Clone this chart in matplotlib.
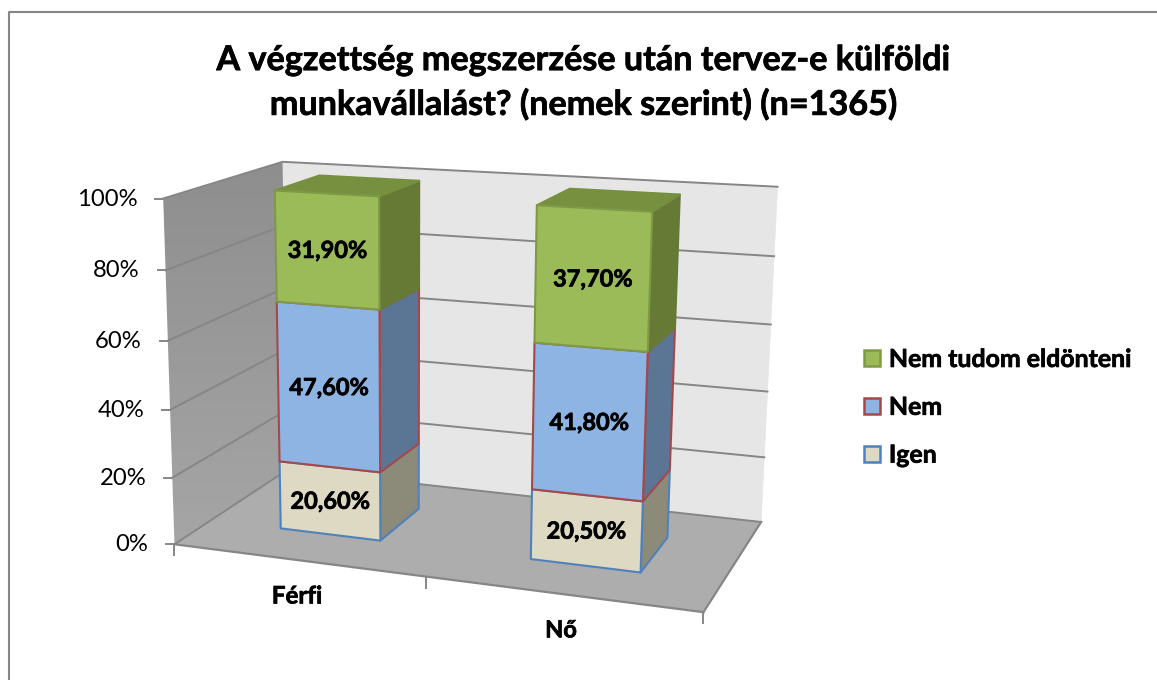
import matplotlib
matplotlib.use('Agg')
import matplotlib.pyplot as plt
import matplotlib.patheffects as pe
from matplotlib.colors import LinearSegmentedColormap
from matplotlib.patches import Patch, Polygon
import numpy as np

categories = ['Férfi', 'Nő']
series = ['Igen', 'Nem', 'Nem tudom eldönteni']
igen = [20.6, 20.5]
nem = [47.6, 41.8]
nem_tudom = [31.9, 37.7]
yticks = [0, 20, 40, 60, 80, 100]

# (colour of front, side, top, edge)
styles = {
    'Igen': ('#DDD9C3', '#8C8A78', '#B0AD9B', '#4F81BD'),
    'Nem': ('#8DB4E2', '#5B7595', '#7090B5', '#A5484A'),
    'Nem tudom eldönteni': ('#9BBB59', '#667A35', '#76903F', '#7E9A47'),
}

plt.rcParams['font.family'] = ['Lato', 'DejaVu Sans']
heavy = [pe.withStroke(linewidth=0.5, foreground='black')]


def fit_camera():
    # walls of the box: (category pos, percent, depth) -> pixel
    anchors = [((0, 0, 0), (177, 544)), ((2, 0, 0), (703, 613)), ((0, 100, 0), (161, 198)),
               ((0, 0, 1), (285, 470)), ((2, 0, 1), (762, 521)), ((0, 100, 1), (285, 162)),
               ((2, 100, 1), (777, 187))]
    A, b = [], []
    for (u, v, d), (px, py) in anchors:
        v = v / 100
        A.append([u, v, d, 1, 0, 0, 0, 0, -px * u, -px * v, -px * d])
        b.append(px)
        A.append([0, 0, 0, 0, u, v, d, 1, -py * u, -py * v, -py * d])
        b.append(py)
    m = np.linalg.lstsq(np.array(A, float), np.array(b, float), rcond=None)[0]
    return np.append(m, 1).reshape(3, 4)


cam = fit_camera()


def project(u, v, d):
    h = cam @ np.array([u, v / 100, d, 1.0])
    return h[0] / h[2], h[1] / h[2]


def quad(ax, pts, color, edge=None, lw=1.5, z=2):
    ax.add_patch(Polygon([project(*p) for p in pts], closed=True, facecolor=color,
                         edgecolor=edge if edge else color, linewidth=lw, zorder=z,
                         joinstyle='round'))


fig = plt.figure(figsize=(11.57, 6.8), dpi=100)
ax = fig.add_axes([0, 0, 1, 1])
ax.set_xlim(0, 1157)
ax.set_ylim(680, 0)
ax.axis('off')

# chart frame, right and bottom sides are cut off in the original
ax.plot([8.5, 8.5, 1157], [690, 12, 12], color='#868686', lw=1.5, zorder=1)

# walls and floor
quad(ax, [(0, 0, 1), (2, 0, 1), (2, 100, 1), (0, 100, 1)], '#E6E6E6', lw=0.5, z=1)
quad(ax, [(0, 0, 0), (2, 0, 0), (2, 0, 1), (0, 0, 1)], '#ADADAD', lw=0.5, z=1.1)
wall = Polygon([project(0, 0, 0), project(0, 100, 0), project(0, 100, 1), project(0, 0, 1)],
               closed=True, facecolor='none', edgecolor='none', zorder=1.1)
ax.add_patch(wall)
wall_cmap = LinearSegmentedColormap.from_list('w', ['#8E8E8E', '#A6A6A6'])
shade = ax.imshow(np.linspace(0, 1, 64).reshape(-1, 1), cmap=wall_cmap,
                  extent=(150, 295, 550, 160), aspect='auto', zorder=1.1)
shade.set_clip_path(wall)
ax.set_xlim(0, 1157)
ax.set_ylim(680, 0)

grid_c = '#868686'
for t in yticks:
    a, b, c = project(0, t, 0), project(0, t, 1), project(2, t, 1)
    ax.plot([a[0], b[0], c[0]], [a[1], b[1], c[1]], color=grid_c, lw=1.4, zorder=1.5)
    ax.plot([a[0] - 8, a[0]], [a[1], a[1]], color=grid_c, lw=1.4, zorder=1.5)
    ax.text(a[0] - 26, a[1] + 0.5, f'{t}%', ha='right', va='center', fontsize=17.2, color='black')

for u in range(3):
    a = project(u, 0, 0)
    ax.plot([a[0], a[0]], [a[1], a[1] + 11], color=grid_c, lw=1.4, zorder=1.5)
a, b = project(0, 0, 0), project(2, 0, 0)
ax.plot([a[0], b[0]], [a[1], b[1]], color=grid_c, lw=1.6, zorder=1.5)
a, b = project(2, 0, 0), project(2, 0, 1)
ax.plot([a[0], b[0]], [a[1], b[1]], color=grid_c, lw=1.6, zorder=1.5)

# stacked bars
half = 0.205
d0, d1 = 0.30, 0.70
for i, name in enumerate(categories):
    u0, u1 = i + 0.5 - half, i + 0.5 + half
    base = 0.0
    vals = [igen[i], nem[i], nem_tudom[i]]
    total = sum(vals)
    for s, val in zip(series, vals):
        top = base + val / total * 100
        front, side, cap, edge = styles[s]
        # green block has no bright outline on its shaded faces
        side_edge = side if s == series[-1] else edge
        quad(ax, [(u1, base, d0), (u1, base, d1), (u1, top, d1), (u1, top, d0)], side, side_edge, z=3)
        quad(ax, [(u0, base, d0), (u1, base, d0), (u1, top, d0), (u0, top, d0)], front, edge, z=3.1)
        if s == series[-1]:
            quad(ax, [(u0, top, d0), (u1, top, d0), (u1, top, d1), (u0, top, d1)], cap, cap, z=3)
        x, y = project(i + 0.5, (base + top) / 2, d0)
        ax.text(x + 0.5, y + 0.5, f'{val:.2f}%'.replace('.', ','), ha='center', va='center', fontsize=17,
                fontweight='bold', zorder=4, path_effects=heavy)
        base = top
    x, y = project(i + 0.5, 0, 0)
    ax.text(x, y + 36, name, ha='center', va='center', fontsize=17 if i else 17.4, fontweight='bold',
            path_effects=heavy)

ax.text(583.5, 82.5, 'A végzettség megszerzése után tervez-e külföldi\nmunkavállalást? (nemek szerint) (n=1365)',
        ha='center', va='center', fontsize=24.6, fontweight='bold', linespacing=1.46, path_effects=heavy)

handles = [Patch(facecolor=styles[s][0], edgecolor=styles[s][3], linewidth=1.8, label=s) for s in reversed(series)]
leg = ax.legend(handles=handles, loc='center left', bbox_to_anchor=(0.7468, 0.401), frameon=False,
                prop={'weight': 'bold', 'size': 17.9}, handlelength=0.64, handleheight=0.64,
                handletextpad=0.36, labelspacing=1.0, borderpad=0, borderaxespad=0)
for t in leg.get_texts():
    t.set_path_effects(heavy)

fig.savefig('out.png', dpi=100)
